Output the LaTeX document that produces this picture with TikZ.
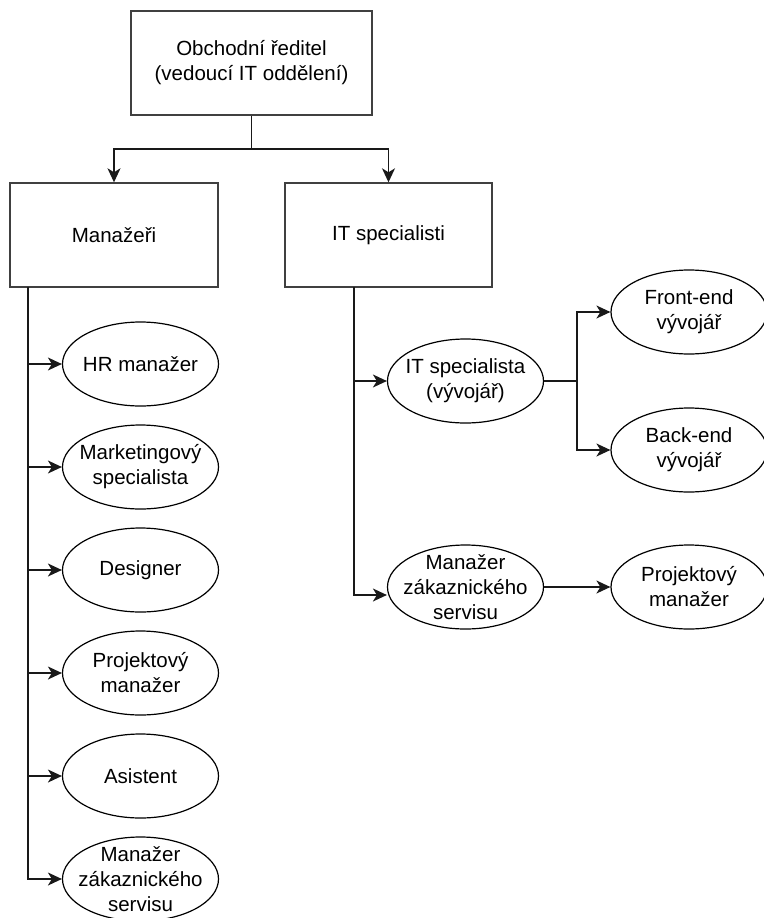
\documentclass[tikz,border=0pt]{standalone}
\usepackage{fontspec}
\setmainfont{Liberation Sans}
\usetikzlibrary{shapes.geometric,arrows.meta}
\begin{document}
\begin{tikzpicture}[x=1pt,y=-1pt,
  box/.style={draw=black!75, line width=1.4pt, rectangle, inner sep=0pt, minimum height=104pt},
  ell/.style={draw=black, line width=1.2pt, ellipse, minimum width=156pt, minimum height=84pt, inner sep=0pt},
  txt/.style={align=center, font=\fontsize{20.5}{25}\selectfont, inner sep=0pt},
  link/.style={line width=1.4pt, draw=black!90},
  arr/.style={link, -{Stealth[length=14pt,width=13pt,inset=4pt]}}]

\useasboundingbox (0,0) rectangle (763,918);
\path[fill=white] (0,0) rectangle (763,918);

% top of the hierarchy
\node[box, txt, minimum width=241pt] (ceo) at (251.5,63) {Obchodní ředitel\\(vedoucí IT oddělení)};
\node[box, txt, minimum width=208pt] (man) at (114,235) {Manažeři};
\node[box, txt, minimum width=207pt] (its) at (388.5,235) {IT specialisti};

% managers column
\node[ell, label={[txt]center:HR manažer}] (e1) at (140.5,364) {};
\node[ell, label={[txt]center:Marketingový\\specialista}] (e2) at (140.5,467) {};
\node[ell, label={[txt]center:Designer}] (e3) at (140.5,570) {};
\node[ell, label={[txt]center:Projektový\\manažer}] (e4) at (140.5,673) {};
\node[ell, label={[txt]center:Asistent}] (e5) at (140.5,776) {};
\node[ell, label={[txt]center:Manažer\\zákaznického\\servisu}] (e6) at (140.5,879) {};

% IT column
\node[ell, label={[txt]center:IT specialista\\(vývojář)}] (itsp) at (465.5,381) {};
\node[ell, label={[txt]center:Manažer\\zákaznického\\servisu}] (mzs) at (465.5,587) {};
\node[ell, label={[txt]center:Front-end\\vývojář}] (fe) at (689,312) {};
\node[ell, label={[txt]center:Back-end\\vývojář}] (be) at (689,450) {};
\node[ell, label={[txt]center:Projektový\\manažer}] (pm) at (689,587) {};

% connectors
\coordinate (j) at (251.5,149);
\draw[arr] (ceo.south) -- (j) -| (man.north);
\draw[arr] (j) -| (its.north);

\coordinate (lt) at (28,287);
\foreach \e in {e1,e2,e3,e4,e5,e6} \draw[arr] (lt) |- (\e.west);

\coordinate (rt) at (354,287);
\coordinate (rb) at (354,595);
\draw[arr] (rt) |- (itsp.west);
\draw[arr] (rt) -- (rb) -- (rb -| mzs.west);

\coordinate (br) at (577,381);
\draw[link] (itsp.east) -- (br);
\draw[arr] (br) |- (fe.west);
\draw[arr] (br) |- (be.west);
\draw[arr] (mzs.east) -- (pm.west);
\end{tikzpicture}
\end{document}
